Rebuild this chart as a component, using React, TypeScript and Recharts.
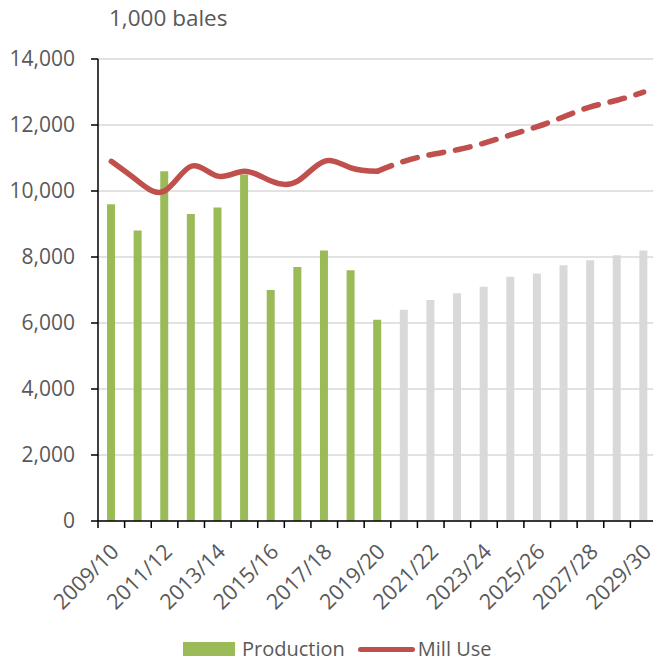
import React from "react";
import { ComposedChart, Bar, Line, XAxis, YAxis, CartesianGrid } from "recharts";

const years = [
  "2009/10", "2010/11", "2011/12", "2012/13", "2013/14", "2014/15", "2015/16",
  "2016/17", "2017/18", "2018/19", "2019/20", "2020/21", "2021/22", "2022/23",
  "2023/24", "2024/25", "2025/26", "2026/27", "2027/28", "2028/29", "2029/30",
];

// history (green bars, solid line)
const productionHist = [9600, 8800, 10600, 9300, 9500, 10500, 7000, 7700, 8200, 7600, 6100];
const millUseHist = [10900, 10300, 10000, 10750, 10450, 10600, 10300, 10300, 10900, 10700, 10600];

// projections (grey bars, dashed line) from 2020/21
const productionProj = [6400, 6700, 6900, 7100, 7400, 7500, 7750, 7900, 8050, 8200];
const millUseProj = [10900, 11100, 11250, 11450, 11700, 11950, 12250, 12550, 12750, 13000];

const yTicks = [0, 2000, 4000, 6000, 8000, 10000, 12000, 14000];

const GREEN = "#9BBB59";
const GREY = "#D9D9D9";
const RED = "#C0504D";
const TEXT = "#595959";
const FONT = "'Open Sans', sans-serif";

const nHist = productionHist.length;

const data = years.map((year, i) => ({
  year,
  prodHist: i < nHist ? productionHist[i] : null,
  prodProj: i >= nHist ? productionProj[i - nHist] : null,
  millHist: i < nHist ? millUseHist[i] : null,
  millProj: i === nHist - 1 ? millUseHist[i] : i >= nHist ? millUseProj[i - nHist] : null,
}));

const CHART_W = 665;
const CHART_H = 659;
const MARGIN = { top: 59, right: 8, left: 0, bottom: 0 };
const Y_W = 98;
const BAND = (CHART_W - MARGIN.left - MARGIN.right - Y_W) / years.length;

function XTick(props: any) {
  const { x, y, payload, index } = props;
  const bx = x - BAND / 2;
  const tx = x + 9;
  const ty = y + 32;
  return (
    <g>
      <line x1={bx} y1={y} x2={bx} y2={y + 7} stroke="#000" strokeWidth={1.5} />
      {index % 2 === 0 && (
        <text
          x={tx}
          y={ty}
          textAnchor="end"
          fill={TEXT}
          fontSize={21.5}
          fontFamily={FONT}
          transform={`rotate(-45, ${tx}, ${ty})`}
        >
          {payload.value}
        </text>
      )}
    </g>
  );
}

export default function App() {
  return (
    <div
      style={{
        position: "absolute",
        left: 0,
        top: 0,
        width: 653,
        height: 659,
        overflow: "hidden",
        background: "#fff",
        fontFamily: FONT,
      }}
    >
      <div style={{ position: "absolute", left: 109, top: 2, fontSize: 22.5, color: TEXT }}>1,000 bales</div>
      <ComposedChart width={CHART_W} height={CHART_H} data={data} margin={MARGIN} barSize={8}>
        <CartesianGrid vertical={false} stroke={GREY} strokeWidth={1.5} />
        <XAxis
          dataKey="year"
          interval={0}
          height={CHART_H - MARGIN.top - 462}
          axisLine={{ stroke: "#000", strokeWidth: 1.5 }}
          tickLine={false}
          tickSize={0}
          tickMargin={0}
          tick={<XTick />}
        />
        <YAxis
          width={Y_W}
          domain={[0, 14000]}
          ticks={yTicks}
          interval={0}
          axisLine={{ stroke: "#000", strokeWidth: 1.5 }}
          tickLine={{ stroke: "#000", strokeWidth: 1.5 }}
          tickSize={7}
          tickMargin={16}
          tick={{ fill: TEXT, fontSize: 21, fontFamily: FONT }}
          tickFormatter={(v: number) => v.toLocaleString("en-US")}
        />
        <Bar dataKey="prodHist" stackId="p" fill={GREEN} isAnimationActive={false} />
        <Bar dataKey="prodProj" stackId="p" fill={GREY} isAnimationActive={false} />
        <Line
          dataKey="millHist"
          type="natural"
          stroke={RED}
          strokeWidth={5.5}
          strokeLinecap="round"
          dot={false}
          activeDot={false}
          isAnimationActive={false}
        />
        <Line
          dataKey="millProj"
          type="natural"
          stroke={RED}
          strokeWidth={5.5}
          strokeLinecap="round"
          strokeDasharray="15 12"
          dot={false}
          activeDot={false}
          isAnimationActive={false}
        />
      </ComposedChart>
      <div
        style={{
          position: "absolute",
          left: 183,
          top: 636,
          display: "flex",
          alignItems: "center",
          fontSize: 20,
          color: TEXT,
          lineHeight: "26px",
        }}
      >
        <span style={{ display: "inline-block", width: 52, height: 14, background: GREEN, marginRight: 7 }} />
        <span style={{ marginRight: 13 }}>Production</span>
        <span
          style={{ display: "inline-block", width: 57, height: 5, borderRadius: 3, background: RED, marginRight: 3 }}
        />
        <span>Mill Use</span>
      </div>
    </div>
  );
}
